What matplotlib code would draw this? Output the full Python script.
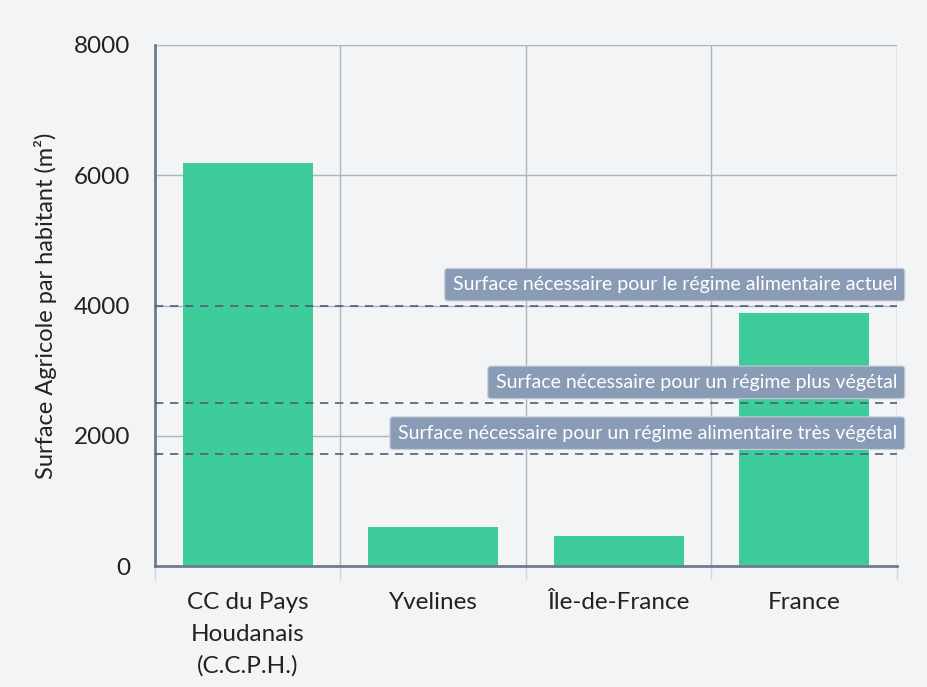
import numpy as np
import matplotlib.pyplot as plt

plt.rcParams['font.family'] = ['Lato', 'DejaVu Sans']

# données
territoires = ['CC du Pays\nHoudanais\n(C.C.P.H.)', 'Yvelines', 'Île-de-France', 'France']
surface = [6190, 600, 460, 3890]

seuils = [4000, 2500, 1720]
seuils_labels = ['Surface nécessaire pour le régime alimentaire actuel',
                 'Surface nécessaire pour un régime plus végétal',
                 'Surface nécessaire pour un régime alimentaire très végétal']

fond = '#f2f4f6'
fig = plt.figure(figsize=(9.28, 6.87), dpi=100, facecolor=fond)
ax = fig.add_axes([0.167, 0.176, 0.7996, 0.7585])
ax.set_facecolor(fond)

x = np.arange(len(territoires))
ax.bar(x, surface, width=0.7, color='#3ecc9a', zorder=2)

ax.set_xlim(-0.5, len(territoires) - 0.5)
ax.set_ylim(0, 8000)
ax.set_yticks([0, 2000, 4000, 6000, 8000])
ax.set_xticks(x)
ax.set_xticklabels(territoires, fontsize=17.5, color='#222222', linespacing=1.6)
ax.set_xticks(np.arange(-0.5, len(territoires)), minor=True)
ax.tick_params(axis='x', which='major', length=0, pad=19)
ax.tick_params(axis='x', which='minor', length=10, color='#d3d8e0', width=1)
ax.tick_params(axis='y', length=0, labelsize=17.5, labelcolor='#222222', pad=18)

ax.grid(axis='y', color='#aab5c5', lw=1, zorder=0)
ax.grid(axis='x', which='minor', color='#aab5c5', lw=1, zorder=0)
ax.grid(axis='x', which='major', visible=False)

for s in ['top', 'right']:
    ax.spines[s].set_visible(False)
ax.spines['left'].set_color('#6e7c92')
ax.spines['left'].set_linewidth(2)
ax.spines['bottom'].set_color('#6e7c92')
ax.spines['bottom'].set_linewidth(2)

ax.set_ylabel('Surface Agricole par habitant (m²)', fontsize=17, color='#222222', labelpad=12)

# lignes de seuil
for val, lab in zip(seuils, seuils_labels):
    ax.axhline(val, color='#4d5f78', lw=1.2, ls=(0, (5, 4)), zorder=3)
    ax.text(len(territoires) - 0.5, val + 190, lab, ha='right', va='bottom',
            fontsize=14, color='white', zorder=4,
            bbox=dict(boxstyle='round,pad=0.4,rounding_size=0.15', fc='#8a9bb5', ec='#c8ced8', lw=0.8))

fig.savefig('out.png', dpi=100, facecolor=fond)
